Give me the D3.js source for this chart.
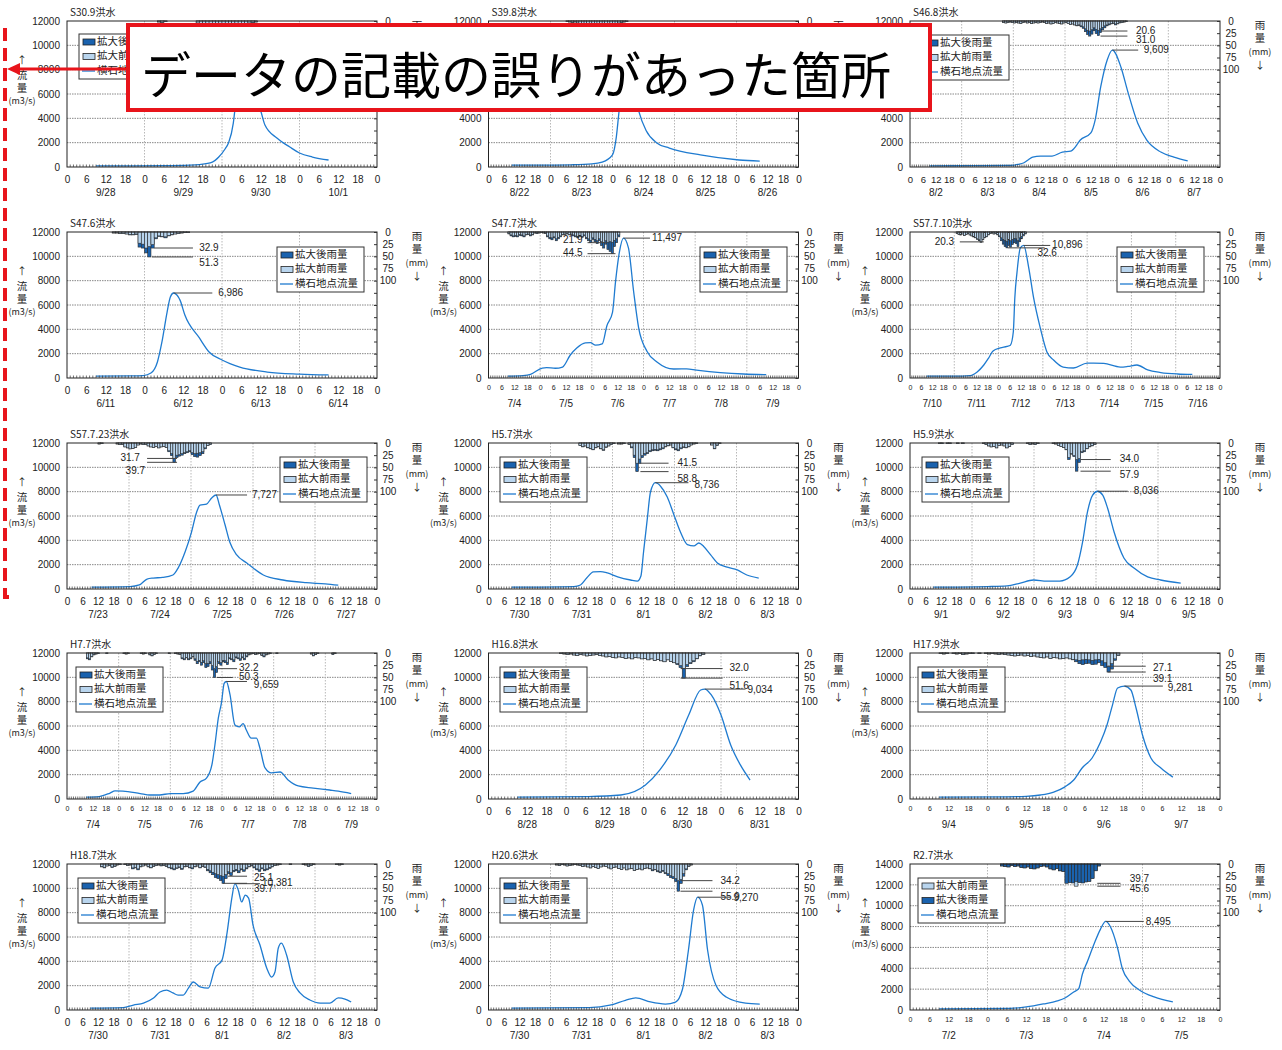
<!DOCTYPE html>
<html><head><meta charset="utf-8">
<script src="https://cdn.jsdelivr.net/npm/d3@7"></script>
<style>
body{margin:0;background:#fff}
svg text{font-family:"Liberation Sans","Noto Sans CJK JP",sans-serif;fill:#222}
.jp{font-family:"Noto Sans CJK JP",sans-serif}
</style>
</head><body>
<svg id="c" width="1282" height="1050"></svg>
<script>
// ---- flood events: titles, dates, axis maxima ----
const titles = ["S30.9洪水","S39.8洪水","S46.8洪水","S47.6洪水","S47.7洪水","S57.7.10洪水",
  "S57.7.23洪水","H5.7洪水","H5.9洪水","H7.7洪水","H16.8洪水","H17.9洪水","H18.7洪水","H20.6洪水","R2.7洪水"];
const dates = [
  ["9/28","9/29","9/30","10/1"],
  ["8/22","8/23","8/24","8/25","8/26"],
  ["8/2","8/3","8/4","8/5","8/6","8/7"],
  ["6/11","6/12","6/13","6/14"],
  ["7/4","7/5","7/6","7/7","7/8","7/9"],
  ["7/10","7/11","7/12","7/13","7/14","7/15","7/16"],
  ["7/23","7/24","7/25","7/26","7/27"],
  ["7/30","7/31","8/1","8/2","8/3"],
  ["9/1","9/2","9/3","9/4","9/5"],
  ["7/4","7/5","7/6","7/7","7/8","7/9"],
  ["8/28","8/29","8/30","8/31"],
  ["9/4","9/5","9/6","9/7"],
  ["7/30","7/31","8/1","8/2","8/3"],
  ["7/30","7/31","8/1","8/2","8/3"],
  ["7/2","7/3","7/4","7/5"]
];
const flowMax = [12000,12000,12000,12000,12000,12000,12000,12000,12000,12000,12000,12000,12000,12000,14000];
const flowTicks = [0,2000,4000,6000,8000,10000,12000,14000];
const rainTicks = [0,25,50,75,100];

// ---- discharge at Yokoishi: [hour from first day 0:00, m3/s] ----
const flowS30_9 = [[9,100],[20,100],[30,110],[38,150],[41,200],[45,400],[47,820],[49,1500],[50,1970],[51.5,3600],[52,4700],[54,6800],[55.5,7500],[57,6800],[58.5,5600],[60,4600],[61.3,3450],[65,2380],[69,1640],[72,1150],[76,820],[81,575]];
const flowS39_8 = [[9,150],[20,150],[32,180],[40,250],[44,400],[48,1000],[49.5,2500],[50.5,4500],[52,7000],[53.5,8300],[55,7800],[56.5,6000],[58,4700],[61,3000],[65,2000],[70,1560],[82,990],[97,575],[105,480]];
const flowS46_8 = [[9,100],[30,110],[45,130],[48,150],[50,220],[52.7,330],[55,600],[57,820],[60.6,900],[66,900],[70.8,1230],[74.6,1300],[77,1700],[79,2200],[84,2800],[86,3860],[88.6,6600],[91.6,8800],[94,9609],[98,8200],[101,6300],[105.8,3600],[110,2200],[116.5,1230],[122.6,820],[129,500]];
const flowS47_6 = [[9,150],[20,170],[23.6,200],[26,410],[28,1320],[29.4,2960],[31,5420],[32,6660],[33,6986],[35,6400],[36.5,5180],[41,3290],[44,2140],[48,1480],[53.5,900],[62,490],[72,320],[81,250]];
const flowS47_7 = [[9,150],[16,200],[19.5,300],[25,820],[27,850],[31,800],[34.4,900],[38,1890],[41,2460],[45,2880],[47.4,2900],[49.7,2700],[52.8,2800],[55,4300],[57.6,5400],[59,7900],[60.8,10350],[62.7,11497],[65,10700],[67.4,7130],[69.7,4170],[73.6,2200],[78.4,1300],[86,740],[92,750],[96.6,650],[107.7,450],[118.4,330],[129,270]];
const flowS57_7_10 = [[9,150],[24,150],[32.6,200],[36.4,500],[40,1070],[42.6,1640],[45,2220],[49,2470],[52.6,2600],[54.4,2700],[56,3800],[56.8,6580],[58,8700],[59.8,10690],[61.6,10896],[64.3,9100],[67,6580],[70.6,4110],[74.2,2140],[77.8,1480],[83,900],[88.6,820],[96,1230],[99.5,1230],[105,1200],[114,900],[118,950],[123,1070],[128.8,660],[135.9,450],[145,330],[153,290]];
const flowS57_7_23 = [[9.5,150],[24.4,200],[28,330],[31,820],[33.4,900],[37,950],[41,1150],[43,1720],[45.7,3040],[48.2,4680],[50.2,6330],[51.5,6900],[54,6980],[56,7480],[57.7,7727],[59,6900],[61.2,5260],[63,3860],[65.7,2800],[69.6,2140],[76,1150],[83.6,740],[92.6,520],[100,420],[105,310]];
const flowH5_7 = [[9,150],[33,200],[35.6,330],[38,900],[40.6,1400],[43.3,1430],[46,1320],[50,1000],[55,740],[57.6,650],[59,1070],[60,3000],[61.5,5830],[62.7,7970],[64.6,8736],[66.6,8450],[69.2,7560],[71.8,6080],[74.3,4680],[77,3650],[79.5,3550],[81.4,3780],[83.3,3500],[86,2800],[88.6,2140],[92.4,1800],[96.3,1570],[100,1150],[104.6,900]];
const flowH5_9 = [[9,150],[30,200],[37.6,250],[42.7,490],[47.8,740],[53,650],[58,650],[62,1000],[64.8,1970],[66.8,3860],[68.7,6330],[70.7,7720],[72.6,8036],[74.6,7720],[76.5,6640],[79,4680],[82.8,2550],[86.7,1720],[92,1000],[97,740],[104.8,490]];
const flowH7_7 = [[9,150],[15,200],[20,490],[22.3,660],[26,650],[34,450],[38.5,330],[43,330],[48,450],[54,450],[58.6,650],[61.8,1400],[64.8,1720],[67.3,2800],[68.7,4440],[70.3,6660],[71.8,7970],[73,9500],[74,9659],[75.7,8600],[78,6080],[80,5920],[81.8,6200],[83.3,5670],[85.6,5000],[88,5000],[89.6,4190],[92,2550],[95,2140],[99,2220],[102.7,1560],[107.4,1070],[114.4,900],[122,740],[126,650],[132,450]];
const flowH16_8 = [[9,150],[31,200],[41,330],[48.6,1150],[53,2380],[58,4440],[62,6900],[65.7,8960],[67,9034],[69,8550],[72,6900],[75,4440],[78,2800],[81,1560]];
const flowH17_9 = [[9,150],[30,180],[36,220],[40.4,330],[44.5,570],[48,1000],[50.7,1560],[53.3,2550],[56.4,3370],[59,4680],[61,6080],[62.7,7720],[64.3,9120],[66.4,9281],[68.4,8960],[70,7480],[72,5260],[74.6,3370],[77.7,2550],[81.4,1800]];
const flowH18_7 = [[9,150],[21.8,200],[25.7,410],[29.6,570],[33.5,990],[36,1480],[38.6,1640],[41,1400],[43,1230],[45,1230],[47,1800],[48.9,2300],[51.5,1900],[54.7,1800],[57.3,3450],[60,4100],[62,6400],[63.8,9200],[65,10381],[66.3,9860],[67.6,8880],[69,9450],[70.3,9200],[72,6990],[74.7,5340],[77.3,3450],[79.2,2710],[80.5,3120],[81.8,5100],[83,5500],[85,4520],[87.6,2300],[90.2,1400],[94,820],[98,570],[101.8,570],[105,990],[107.6,900],[110,660]];
const flowH20_6 = [[9,150],[39,200],[47,400],[53,800],[57,1000],[62.7,660],[68.5,490],[72.4,650],[75,1640],[77.4,4930],[79.4,8220],[81,9270],[82.8,8630],[84.8,4930],[88,2050],[92,1070],[99.5,570],[105,490]];
const flowR2_7 = [[9,100],[31,150],[36,290],[41.3,580],[45.6,870],[48,1150],[50.7,1730],[52.2,2020],[53.4,3450],[55,4700],[57,6330],[59,7760],[60.6,8495],[62.1,7960],[64.2,6040],[65.8,3930],[67.9,2780],[71.5,1820],[75.6,1250],[81.4,770]];

// ---- hourly basin rainfall (mm), first value at rainStart hour ----
const rainStart = [28,30,43,14,9,25,12,35,11,9,22,9,13,26,28];
const afterS30_9 = [2,3,1,0,0,0,0,0,0,0,0,0,5,8,10,12,14,18,20,25,30,28,22,18,15,12,8,6,5,4,2];
const beforeS30_9 = [2,3,1,0,0,0,0,0,0,0,0,0,4,6,8,10,11,14,16,20,24,22,18,14,12,10,6,5,4,3,2];
const afterS39_8 = [1,2,3,2,4,6,8,10,12,15,18,20,22,25,28,24,20,16,12,8,5,3,2,1];
const beforeS39_8 = [1,2,3,2,4,5,7,8,10,12,14,16,18,20,22,19,16,13,10,7,4,3,2,1];
const afterS46_8 = [3,4,3,2,3,4, 3,4,5,3,2,4,3,5,4,3,4,3, 2,3,5,4,6,5,3,4,5,6,4,3, 5,7,6,8,10,9,12, 15,22,28,31.0,27,20,26,30,24,18,14,10,8, 6,5,8,6,4,3,2,1];
const beforeS46_8 = [3,4,3,2,3,4, 3,4,5,3,2,4,3,5,4,3,4,3, 2,3,5,4,6,5,3,4,5,6,4,3, 5,7,6,8,9,8,10, 12,16,19,20.6,18,14,17,19,16,13,10,8,6, 5,4,6,5,3,3,2,1];
const afterS47_6 = [2,2,3,3,4,6,6,5,31,33,43,51.3,33,14,9,10,12,8,6,4,3,2,1,1];
const beforeS47_6 = [2,2,3,3,4,5,5,4,23,25,32.9,30,26,12,8,9,10,7,5,4,3,2,1,1];
const afterS47_7 = [4,8,10,9,10,7,8,10,6,5,8,6, 2,3,2,1,2,3,10,14,16,12, 18,14,10,6,5,4,6,5,8,10, 12,9,11,8,14,18,22,15,20,24, 18,28,33,25,36,40,44.5,30,22,10];
const beforeS47_7 = [3,6,8,7,8,5,6,8,5,4,6,5, 2,2,2,1,2,2,8,11,12,10, 14,11,8,5,4,3,5,4,6,8, 9,7,9,6,11,14,17,12,15,18, 14,20,21.9,18,21,20,21,17,14,6];
const afterS57_7_10 = [3,5,6,4,7,5,3,6,8,10, 12,15,18,21,16,12,10,6, 3,2,4,3,6,10, 18,25,30,32.6,28,31,26,22,24,30,20,14,8,4];
const beforeS57_7_10 = [3,5,6,4,7,5,3,6,8,10, 11,14,16,20.3,15,11,9,5, 3,2,4,3,5,8, 12,15,17,19,16,18,15,13,14,18,12,9,5,3];
const afterS57_7_23 = [2,1,0,0,0,0,0,2,3,3, 8,10,12,11,9,4,2,3,3, 6,8,9,7,10,8,7,9, 18,26,39.7,30,27,25,22, 20,18,24,28,29,26,22,12,5,3];
const beforeS57_7_23 = [2,1,0,0,0,0,0,2,3,3, 8,10,12,11,9,4,2,3,3, 6,8,9,7,10,8,7,9, 16,22,31.7,25,24,22,20, 18,16,20,22,21,20,18,10,5,3];
const afterH5_7 = [5,8,6,10,12,14,10,8,12,15,9,6,3, 1,0,2,2,1,0,3, 10,30,58.8,42,30,25,22,18, 16,15,16,14,12,8,6,4, 10,14,16,12,9,10,8,4,2, 1,0,0,0,0,0,4,12,5,1,0];
const beforeH5_7 = [5,7,6,9,11,13,9,7,11,14,8,6,3, 1,0,2,2,1,0,3, 8,25,41.5,33,26,22,20,16, 14,13,14,12,10,7,5,4, 9,12,14,10,8,9,7,4,2, 1,0,0,0,0,0,4,11,4,1,0];
const afterH5_9 = [1,1,0,1,1,0,0,1,0,1,0,0, 0,0,0,0,0,1, 3,6,8,7,10,5,4,6,10,7,3, 0,0,0,0,0,1, 3,2,3,1,0,0,0,0,0,1,2, 5,7,9,14,34,23,28,57.9,40,20,18,12,8,6,3];
const beforeH5_9 = [1,1,0,1,1,0,0,1,0,1,0,0, 0,0,0,0,0,1, 3,6,8,7,10,5,4,6,10,7,3, 0,0,0,0,0,1, 3,2,3,1,0,0,0,0,0,1,2, 5,7,9,13,30,22,26,34.0,32,18,16,11,7,5,3];
const afterH7_7 = [12,14,8,4,2,1,0,0, 0,1,0,0,0,0,0,0,0,1,2,1,0,0,0,0,0,1,2,1,0, 4,6,3,1,0,0,0,0,0,1,0,0,1,2,3, 12,14,10,14,12,8,15,22,18,25,20,30,28,22,35,50.3,40, 22,25,18,20,24,12,14,18,10,12,15,10,14,8,4, 2,1,3,2,1,5,8,4,2,1,0,0,1,0,0,0, 0,0,0,0,0,0,0,0,0,0,0,0,2,6,3,1,0,0,0,0,0,0,3,1,0];
const beforeH7_7 = [10,12,7,3,2,1,0,0, 0,1,0,0,0,0,0,0,0,1,2,1,0,0,0,0,0,1,2,1,0, 3,5,3,1,0,0,0,0,0,1,0,0,1,2,3, 10,12,9,12,10,7,12,17,15,19,16,22,21,18,26,32.2,28, 18,20,15,16,19,10,12,14,8,10,12,8,11,6,3, 2,1,3,2,1,4,6,3,2,1,0,0,1,0,0,0, 0,0,0,0,0,0,0,0,0,0,0,0,2,5,3,1,0,0,0,0,0,0,2,1,0];
const afterH16_8 = [1,2,3,2,4,5,3,4,6,5,4,3, 5,6,8,7,9,10,8,9,11,10,12,9, 10,12,11,14,12,15,13,16,18,14,17,20, 24,30,51.6,28,22,18,12,6,3];
const beforeH16_8 = [1,2,3,2,4,5,3,4,6,5,4,3, 5,6,8,7,9,10,8,9,11,10,12,9, 10,12,11,14,12,15,13,16,18,14,17,20, 22,26,32.0,24,20,16,11,5,3];
const afterH17_9 = [1,2,1,0,1,2,1,3,2,1,1,0, 1,0,1,2,1,2,3,2,3, 4,5,6,5,4,6,5,7,6, 8,9,10,8,11,9,10,12,11,10,12,14, 18,22,24,22,21,24,23,20, 26,30,39.1,33,15,5];
const beforeH17_9 = [1,2,1,0,1,2,1,3,2,1,1,0, 1,0,1,2,1,2,3,2,3, 4,5,6,5,4,6,5,7,6, 8,9,10,8,11,9,10,12,11,10,12,13, 14,15,14,13,14,15,14,13, 16,20,27.1,22,12,4];
const afterH18_7 = [6,8,4,3,7,5,2,1,0,1,3,2, 10,8,12,6,4,2,6,8,5,3,2,4, 3,5,8,10,12,9,7,11,6,5,8,10, 6,4,8,5,7,14,18,22,28,30,34,39.7, 30,20,24,16,14,18,12,15,10,6,4,8, 12,15,10,14,12,9,6,3,2,1,0,0, 0,1,0,0,0,0,1,2,5,3,1,0, 0,0,0,0,0,0,0,1,2,1,0,0];
const beforeH18_7 = [5,7,4,3,6,4,2,1,0,1,3,2, 8,7,10,5,4,2,5,7,4,3,2,3, 3,4,7,8,10,8,6,9,5,4,7,8, 5,4,7,4,6,11,14,17,20,22,24,25.1, 22,16,18,13,11,14,10,12,8,5,3,6, 10,12,8,11,10,7,5,3,2,1,0,0, 0,1,0,0,0,0,1,2,4,3,1,0, 0,0,0,0,0,0,0,1,2,1,0,0];
const afterH20_6 = [2,3,1,2,4,3,2,1,2,3,5,4, 6,8,5,7,9,6,4,5,8,10,7,6, 9,11,8,12,10,9,13,11,10,12,9,8, 10,14,12,16,18,15,20,24,28,30,36,55.9, 40,25,12,5,2];
const beforeH20_6 = [2,3,1,2,4,3,2,1,2,3,5,4, 6,8,5,7,9,6,4,5,8,10,7,6, 9,11,8,12,10,9,13,11,10,12,9,8, 9,12,11,14,16,13,18,20,24,26,30,34.2, 32,20,10,4,2];
const afterR2_7 = [4,5,6,3,5,4,7,8,6,9, 10,8,5,4,6,10,12,9,14,15, 39.7,38,39,36,38,39,37,36,30,14,4];
const beforeR2_7 = [4,5,6,3,5,4,7,8,6,9, 10,8,5,4,6,10,12,9,14,15, 38,37,38,45.6,37,38,36,35,29,13,4];

const flows = [flowS30_9,flowS39_8,flowS46_8,flowS47_6,flowS47_7,flowS57_7_10,flowS57_7_23,flowH5_7,flowH5_9,flowH7_7,flowH16_8,flowH17_9,flowH18_7,flowH20_6,flowR2_7];
const rainAfter = [afterS30_9,afterS39_8,afterS46_8,afterS47_6,afterS47_7,afterS57_7_10,afterS57_7_23,afterH5_7,afterH5_9,afterH7_7,afterH16_8,afterH17_9,afterH18_7,afterH20_6,afterR2_7];
const rainBefore = [beforeS30_9,beforeS39_8,beforeS46_8,beforeS47_6,beforeS47_7,beforeS57_7_10,beforeS57_7_23,beforeH5_7,beforeH5_9,beforeH7_7,beforeH16_8,beforeH17_9,beforeH18_7,beforeH20_6,beforeR2_7];

// ---- per-panel layout: legend corner, hour-label size, leader lines (in hours) ----
const layout = [
  {lg:[79,34], hf:10, rl:[{x1:46,x2:62,tx:64,dy:0},{x1:46,x2:62,tx:64,dy:6}], pk:{x2:68,tx:70,dy:0}},
  {lg:[500,34], hf:10, rl:[{x1:44,x2:58,tx:60,dy:0},{x1:44,x2:58,tx:60,dy:6}], pk:{x2:66,tx:68,dy:0}},
  {lg:[922,35], hf:9.5, rl:[{x1:88.5,x2:101,tx:104,dy:0},{x1:88.5,x2:101,tx:104,dy:4}], pk:{x2:106,tx:108.6,dy:0}},
  {lg:[277,247], hf:10, rl:[{x1:27,x2:39,tx:40.3,dy:0},{x1:26.3,x2:39,tx:40.3,dy:6}], pk:{x2:45,tx:46.8,dy:0}},
  {lg:[700,247], hf:7, rl:[{x1:46,x2:55,tx:44.6,end:1,dy:-2},{x1:46,x2:59,tx:44.6,end:1,dy:0}], pk:{x2:75,tx:76,dy:0}},
  {lg:[1117,247], hf:7, rl:[{x1:27,x2:40,tx:25,end:1,dy:0},{x1:53,x2:73,tx:68,dy:5}], pk:{x2:76,tx:77,dy:0}},
  {lg:[280,457], hf:10, rl:[{x1:31,x2:42.6,tx:29,end:1,dy:0},{x1:31,x2:42.6,tx:31,end:1,dy:9}], pk:{x2:69.7,tx:71.6,dy:0}},
  {lg:[500,457], hf:10, rl:[{x1:58.8,x2:69.7,tx:72.4,dy:0},{x1:58.8,x2:69.7,tx:72.4,dy:8}], pk:{x2:77.4,tx:79.7,dy:3}},
  {lg:[922,457], hf:10, rl:[{x1:66,x2:77.7,tx:80.4,dy:0},{x1:66,x2:77.7,tx:80.4,dy:4}], pk:{x2:84.3,tx:86.6,dy:0}},
  {lg:[76,667], hf:7, rl:[{x1:70,x2:79,tx:79,dy:0},{x1:69.5,x2:77,tx:79,dy:0}], pk:{x2:83.6,tx:86.8,dy:4}},
  {lg:[500,667], hf:10, rl:[{x1:59.5,x2:72.5,tx:74,dy:0},{x1:59.5,x2:72.5,tx:74,dy:8}], pk:{x2:79.6,tx:80.2,dy:1}},
  {lg:[918,667], hf:7, rl:[{x1:61.2,x2:73,tx:74.6,dy:2},{x1:61.2,x2:73,tx:74.6,dy:7}], pk:{x2:78.3,tx:79.8,dy:2}},
  {lg:[78,878], hf:10, rl:[{x1:62.3,x2:69.7,tx:71.6,dy:2},{x1:60.4,x2:69.7,tx:71.6,dy:6}], pk:{x2:74.7,tx:75.5,dy:0}},
  {lg:[500,878], hf:10, rl:[{x1:74.3,x2:86.7,tx:89,dy:1},{x1:74.3,x2:86.7,tx:89,dy:6}], pk:{x2:93.7,tx:94.8,dy:1}},
  {lg:[918,878], hf:7, grey:1, swap:1, rl:[{x1:58,x2:65.2,tx:67.4,dy:-4},{x1:58,x2:65.2,tx:67.4,dy:3}], pk:{x2:72.4,tx:73,dy:1}}
];

const colLeft = [67, 488.5, 910];
const rowTop = [21, 232, 443, 653, 864];
const plotW = 310, plotH = 146;
const AFTER = "#1a62ae", BEFORE = "#b9d5ee", LINE = "#1f7bd0";
const svg = d3.select("#c");

titles.forEach((title, i) => {
  const L = layout[i];
  const left = colLeft[i % 3], top = rowTop[Math.floor(i / 3)];
  const right = left + plotW, bottom = top + plotH;
  const hours = dates[i].length * 24;
  const x = d3.scaleLinear().domain([0, hours]).range([left, right]);
  const y = d3.scaleLinear().domain([0, flowMax[i]]).range([bottom, top]);
  const r = d3.scaleLinear().domain([0, 300]).range([top, bottom]);
  const g = svg.append("g");

  // grid
  g.append("g").selectAll("line").data(d3.range(2000, flowMax[i], 2000)).join("line")
    .attr("x1", left).attr("x2", right).attr("y1", d => y(d)).attr("y2", d => y(d))
    .attr("stroke", "#7a7a7a").attr("stroke-width", 0.9).attr("stroke-dasharray", "1.5,1");
  g.append("g").selectAll("line").data(d3.range(24, hours, 24)).join("line")
    .attr("x1", d => x(d)).attr("x2", d => x(d)).attr("y1", top).attr("y2", bottom)
    .attr("stroke", "#b0b0b0").attr("stroke-width", 0.9).attr("stroke-dasharray", "1.5,1.5");

  // rain bars hanging from the top
  const s0 = rainStart[i];
  const bars = (arr, fill) => g.append("g").selectAll("rect")
    .data(arr.map((v, j) => ({h: s0 + j, v})).filter(d => d.v > 0)).join("rect")
    .attr("x", d => x(d.h)).attr("width", d => x(d.h + 1) - x(d.h))
    .attr("y", top).attr("height", d => r(d.v) - top)
    .attr("fill", fill).attr("stroke", "#2a2a2a").attr("stroke-width", 0.6);
  if (L.swap) { bars(rainBefore[i], BEFORE); bars(rainAfter[i], AFTER); }
  else { bars(rainAfter[i], AFTER); bars(rainBefore[i], BEFORE); }

  // discharge hydrograph
  g.append("path").datum(flows[i])
    .attr("d", d3.line().x(d => x(d[0])).y(d => y(d[1])).curve(d3.curveMonotoneX))
    .attr("fill", "none").attr("stroke", LINE).attr("stroke-width", 1.3);

  // frame and hourly ticks
  g.append("rect").attr("x", left).attr("y", top).attr("width", plotW).attr("height", plotH)
    .attr("fill", "none").attr("stroke", "#222").attr("stroke-width", 1);
  g.append("g").selectAll("line").data(d3.range(1, hours)).join("line")
    .attr("x1", d => x(d)).attr("x2", d => x(d)).attr("y1", bottom).attr("y2", bottom - 2.5)
    .attr("stroke", "#333").attr("stroke-width", 0.7);

  // left discharge axis
  const ay = g.append("g").attr("transform", `translate(${left},0)`)
    .call(d3.axisLeft(y).tickValues(flowTicks.filter(v => v <= flowMax[i])).tickSize(0).tickPadding(7).tickFormat(d3.format("d")));
  ay.select(".domain").remove();
  ay.selectAll("text").attr("font-size", 10).attr("fill", "#222");

  // right rainfall axis
  const ar = g.append("g").attr("transform", `translate(${right},0)`)
    .call(d3.axisRight(r).tickValues(d3.range(0, 301, 25)).tickSizeInner(-3).tickSizeOuter(0));
  ar.select(".domain").remove();
  ar.selectAll("line").attr("stroke", "#333");
  ar.selectAll(".tick text").each(function(d) {
    if (!rainTicks.includes(d)) d3.select(this).remove();
  });
  ar.selectAll("text").attr("x", 11).attr("text-anchor", "middle").attr("font-size", 10).attr("fill", "#222");

  // bottom hour axis
  const ax = g.append("g").attr("transform", `translate(0,${bottom})`)
    .call(d3.axisBottom(x).tickValues(d3.range(0, hours + 1, 6)).tickSize(0)
      .tickPadding(L.hf < 9 ? 7 : 9).tickFormat(d => d % 24));
  ax.select(".domain").remove();
  ax.selectAll("text").attr("font-size", L.hf).attr("fill", L.grey ? "#777" : "#222");

  // day labels
  g.append("g").selectAll("text").data(dates[i]).join("text")
    .attr("x", (d, k) => x(k * 24 + 12)).attr("y", bottom + 26)
    .attr("text-anchor", "middle").attr("dominant-baseline", "middle")
    .attr("font-size", 10).text(d => d);

  // titles
  g.append("text").attr("class", "jp").attr("x", left + 3).attr("y", top - 5)
    .attr("font-size", 10).text(title);
  const lt = [["↑", 40, 10], ["流", 55, 10.5], ["量", 68, 10.5], ["(m3/s)", 81, 9]];
  lt.forEach(([t, dy, fs]) => g.append("text").attr("class", "jp").attr("x", left - 45).attr("y", top + dy)
    .attr("text-anchor", "middle").attr("dominant-baseline", "middle").attr("font-size", fs).text(t));
  const rt = [["雨", 5, 10.5], ["量", 18, 10.5], ["(mm)", 32, 9], ["↓", 45, 10]];
  rt.forEach(([t, dy, fs]) => g.append("text").attr("class", "jp").attr("x", right + 40).attr("y", top + dy)
    .attr("text-anchor", "middle").attr("dominant-baseline", "middle").attr("font-size", fs).text(t));

  // rainfall maxima with leader lines
  const maxes = [d3.max(rainAfter[i]), d3.max(rainBefore[i])].sort((a, b) => a - b);
  maxes.forEach((v, k) => {
    const o = L.rl[k];
    g.append("line").attr("x1", x(o.x1)).attr("x2", x(o.x2)).attr("y1", r(v)).attr("y2", r(v))
      .attr("stroke", "#444").attr("stroke-width", 1);
    g.append("text").attr("x", x(o.tx) + (o.end ? -2 : 2)).attr("y", r(v) + o.dy)
      .attr("text-anchor", o.end ? "end" : "start").attr("dominant-baseline", "middle")
      .attr("font-size", 10).text(d3.format(".1f")(v));
  });

  // peak discharge
  const pk = flows[i].reduce((a, b) => b[1] > a[1] ? b : a);
  g.append("line").attr("x1", x(pk[0])).attr("x2", x(L.pk.x2)).attr("y1", y(pk[1])).attr("y2", y(pk[1]))
    .attr("stroke", "#444").attr("stroke-width", 1);
  g.append("text").attr("x", x(L.pk.tx)).attr("y", y(pk[1]) + L.pk.dy)
    .attr("dominant-baseline", "middle").attr("font-size", 10).text(d3.format(",")(pk[1]));

  // legend
  const lg = g.append("g").attr("transform", `translate(${L.lg[0]},${L.lg[1]})`);
  lg.append("rect").attr("width", 87).attr("height", 45).attr("fill", "#fff").attr("stroke", "#333");
  const items = L.swap
    ? [["拡大前雨量", BEFORE], ["拡大後雨量", AFTER], ["横石地点流量", null]]
    : [["拡大後雨量", AFTER], ["拡大前雨量", BEFORE], ["横石地点流量", null]];
  items.forEach(([name, fill], k) => {
    const yy = 8 + k * 14.5;
    if (fill) lg.append("rect").attr("x", 4).attr("y", yy - 3).attr("width", 12).attr("height", 6)
      .attr("fill", fill).attr("stroke", "#222").attr("stroke-width", 0.8);
    else lg.append("line").attr("x1", 3).attr("x2", 16).attr("y1", yy).attr("y2", yy)
      .attr("stroke", LINE).attr("stroke-width", 1.3);
    lg.append("text").attr("class", "jp").attr("x", 18).attr("y", yy)
      .attr("dominant-baseline", "middle").attr("font-size", 10.5).text(name);
  });
});

// ---- correction callout ----
const RED = "#e8141b";
const note = svg.append("g");
note.append("path").attr("d", "M5,28 V597 H12").attr("fill", "none")
  .attr("stroke", RED).attr("stroke-width", 4).attr("stroke-dasharray", "13,7");
note.append("line").attr("x1", 127).attr("x2", 17).attr("y1", 69).attr("y2", 69)
  .attr("stroke", RED).attr("stroke-width", 3);
note.append("path").attr("d", "M7,69 L20,63 L20,75 Z").attr("fill", RED);
note.append("rect").attr("x", 128).attr("y", 25).attr("width", 802).attr("height", 85)
  .attr("fill", "#fff").attr("stroke", RED).attr("stroke-width", 4);
note.append("text").attr("class", "jp").attr("x", 516).attr("y", 72)
  .attr("text-anchor", "middle").attr("dominant-baseline", "central")
  .attr("font-size", 50).attr("fill", "#000").style("fill", "#000").text("データの記載の誤りがあった箇所");
</script>
</body></html>
